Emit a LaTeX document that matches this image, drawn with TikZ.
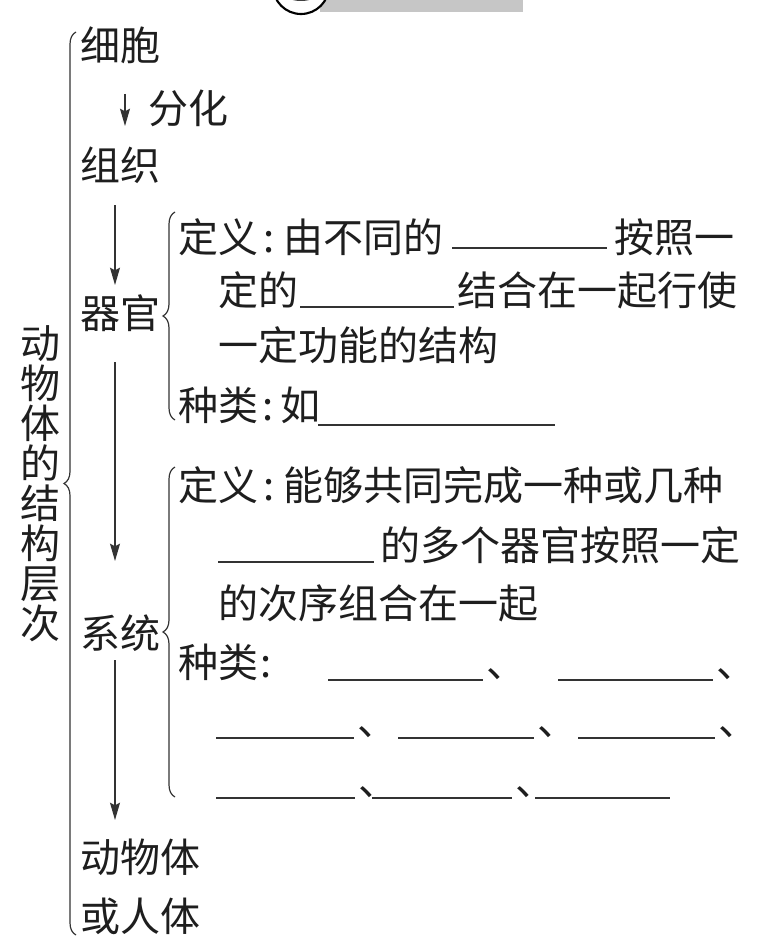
\documentclass[tikz,border=0pt]{standalone}
\usepackage{fontspec}
\newfontfamily\cjk{Noto Sans CJK SC}
\usetikzlibrary{arrows.meta,decorations.pathreplacing}
\definecolor{ink}{HTML}{1E1E1E}
\definecolor{ln}{HTML}{333333}
\begin{document}
\begin{tikzpicture}[x=0.75pt,y=-0.75pt,
  txt/.style={inner sep=0pt, outer sep=0pt, anchor=west, text=ink,
    font=\cjk\fontsize{30pt}{30pt}\selectfont, text height=26.4pt, text depth=3.6pt},
  ctr/.style={txt, anchor=center},
  arr/.style={draw=ln, line width=0.9pt, -{Stealth[length=13pt,width=7.5pt,inset=2pt]}},
  blank/.style={draw=ln, line width=0.9pt},
  br/.style={draw=ln, line width=0.9pt, decorate, decoration={brace, amplitude=9pt}}]
\useasboundingbox (0,0) rectangle (768,949);
\clip (0,0) rectangle (768,949);
\fill[white] (0,0) rectangle (768,949);
% cut-off header
\fill[gray!45] (320,-5) rectangle (523,12);
\draw[line width=1.6pt, fill=white] (301,-14) circle (28);
\fill[ink!85] (301,-8) ellipse (18 and 9);
% left column
\node[inner sep=0pt, text=ink, align=center, font=\cjk\fontsize{30pt}{30pt}\selectfont] (title) at (40,484) {动\\物\\体\\的\\结\\构\\层\\次};
\draw[br] (76,935) -- (76,32);
\node[txt] (xibao) at (80,45) {细胞};
\node[txt] (fenhua) at (148,108) {分化};
\node[txt] (zuzhi) at (80,165) {组织};
\node[txt] (qiguan) at (80,313) {器官};
\node[txt] (xitong) at (80,633) {系统};
\node[txt] (dwt) at (80,857) {动物体};
\node[txt] (hrt) at (80,916) {或人体};
% arrows
\coordinate (a0s) at (125,94);
\coordinate (a0e) at (125,126);
\coordinate (a1s) at (115,205);
\coordinate (a1e) at (115,285);
\coordinate (a2s) at (115,362);
\coordinate (a2e) at (115,561);
\coordinate (a3s) at (115,660);
\coordinate (a3e) at (115,820);
\draw[arr] (a0s) -- (a0e);
\draw[arr] (a1s) -- (a1e);
\draw[arr] (a2s) -- (a2e);
\draw[arr] (a3s) -- (a3e);
% organ
\draw[br] (175,420) -- (175,212);
\node[txt] (od1) at (178,237) {定义};
\node[ctr] (oc1) at (269,237) {:};
\node[txt] (od2) at (283,237) {由不同的};
\draw[blank] (452,248) -- (607,248);
\node[txt] (od3) at (614,237) {按照一};
\node[txt] (od4) at (218,290) {定的};
\draw[blank] (300,307) -- (454,307);
\node[txt] (od5) at (457,290) {结合在一起行使};
\node[txt] (od6) at (218,345) {一定功能的结构};
\node[txt] (ok1) at (178,405) {种类};
\node[ctr] (ok2) at (268,405) {:};
\node[txt] (ok3) at (280,405) {如};
\draw[blank] (318,425) -- (555,425);
% system
\draw[br] (175,797) -- (175,467);
\node[txt] (sd1) at (178,485) {定义};
\node[ctr] (sc1) at (269,485) {:};
\node[txt] (sd2) at (283,485) {能够共同完成一种或几种};
\draw[blank] (218,562) -- (374,562);
\node[txt] (sd3) at (380,545) {的多个器官按照一定};
\node[txt] (sd4) at (218,603) {的次序组合在一起};
\node[txt] (sk1) at (178,662) {种类};
\node[ctr] (sk2) at (266,662) {:};
\draw[blank] (328,680) -- (483,680);
\node[txt] (c1) at (486,662) {、};
\draw[blank] (558,680) -- (713,680);
\node[txt] (c2) at (716,662) {、};
\draw[blank] (216,738) -- (354,738);
\node[txt] (c3) at (357,720) {、};
\draw[blank] (398,738) -- (534,738);
\node[txt] (c4) at (537,720) {、};
\draw[blank] (578,738) -- (715,738);
\node[txt] (c5) at (718,720) {、};
\draw[blank] (216,798) -- (355,798);
\node[txt] (c6) at (358,780) {、};
\draw[blank] (372,798) -- (512,798);
\node[txt] (c7) at (515,780) {、};
\draw[blank] (535,798) -- (670,798);
\end{tikzpicture}
\end{document}
